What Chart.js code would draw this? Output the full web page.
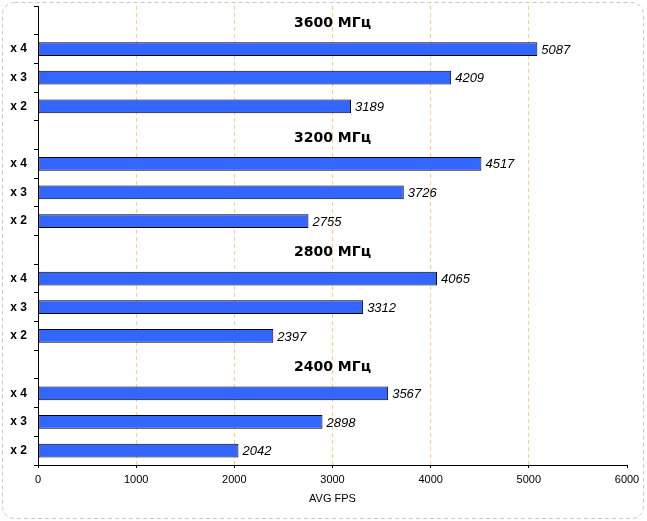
<!DOCTYPE html>
<html>
<head>
<meta charset="utf-8">
<script src="https://cdn.jsdelivr.net/npm/chart.js@4"></script>
<style>
  html, body { margin: 0; padding: 0; background: #fff; }
  #wrap { width: 647px; height: 521px; position: relative; }
</style>
</head>
<body>
<div id="wrap"><canvas id="c"></canvas></div>
<script>
// ---- data ----
const groupTitles = ['3600 МГц', '3200 МГц', '2800 МГц', '2400 МГц'];
const rowLabels = ['x 4', 'x 3', 'x 2'];
const fps3600 = [5087, 4209, 3189];
const fps3200 = [4517, 3726, 2755];
const fps2800 = [4065, 3312, 2397];
const fps2400 = [3567, 2898, 2042];
const xMin = 0, xMax = 6000, xStep = 1000;
const axisTitle = 'AVG FPS';

const groupValues = [fps3600, fps3200, fps2800, fps2400];
const labels = [];
const values = [];
const headerIndex = {};
groupTitles.forEach((t, g) => {
  headerIndex[labels.length] = t;
  labels.push('');
  values.push(null);
  rowLabels.forEach((r, i) => { labels.push(r); values.push(groupValues[g][i]); });
});

const frame = {
  id: 'frame',
  beforeDraw(chart) {
    const ctx = chart.ctx;
    ctx.save();
    ctx.strokeStyle = '#c8c8c8';
    ctx.lineWidth = 1;
    ctx.setLineDash([4, 3]);
    ctx.beginPath();
    ctx.roundRect(2.5, 2.5, 641, 516, 12);
    ctx.stroke();
    ctx.restore();
  }
};

const annot = {
  id: 'annot',
  afterDatasetsDraw(chart) {
    const ctx = chart.ctx;
    const meta = chart.getDatasetMeta(0);
    const ys = chart.scales.y;
    const area = chart.chartArea;
    ctx.save();
    ctx.fillStyle = '#000';
    ctx.textBaseline = 'middle';
    ctx.textAlign = 'left';
    ctx.font = 'italic 13px "Liberation Sans", Arial, sans-serif';
    meta.data.forEach((bar, i) => {
      const v = values[i];
      if (v == null) return;
      ctx.fillText(String(v), bar.x + 4, bar.y + 1);
    });
    ctx.textAlign = 'center';
    ctx.font = 'bold 14px "DejaVu Sans", Verdana, sans-serif';
    Object.keys(headerIndex).forEach(k => {
      const y = ys.getPixelForValue(Number(k));
      ctx.fillText(headerIndex[k], (area.left + area.right) / 2, y + 3);
    });
    ctx.restore();
  }
};

new Chart(document.getElementById('c'), {
  type: 'bar',
  data: {
    labels: labels,
    datasets: [{
      data: values,
      backgroundColor: '#3366FF',
      borderColor: '#000000',
      borderWidth: 1,
      borderSkipped: false,
      barPercentage: 0.48,
      categoryPercentage: 1
    }]
  },
  options: {
    indexAxis: 'y',
    responsive: true,
    maintainAspectRatio: false,
    animation: false,
    devicePixelRatio: 1,
    layout: { padding: { top: 6, right: 20, left: 0, bottom: 0 } },
    plugins: { legend: { display: false }, tooltip: { enabled: false } },
    scales: {
      x: {
        type: 'linear',
        min: xMin, max: xMax,
        afterFit(s) { s.height = 56; },
        ticks: {
          stepSize: xStep,
          color: '#000',
          padding: 5,
          maxRotation: 0,
          callback: (v) => String(v),
          font: { family: '"Liberation Sans", Arial, sans-serif', size: 11 }
        },
        grid: {
          color: (c) => (c.tick && (c.tick.value === xMin || c.tick.value === xMax)) ? 'rgba(0,0,0,0)' : '#FFCC80',
          lineWidth: 1,
          tickColor: '#000',
          tickLength: 3,
          tickBorderDash: []
        },
        border: { display: true, color: '#000', width: 1, dash: [4, 3] },
        title: {
          display: true,
          text: axisTitle,
          color: '#000',
          padding: { top: 4, bottom: 15 },
          font: { family: '"Liberation Sans", Arial, sans-serif', size: 11, weight: 'normal' }
        }
      },
      y: {
        type: 'category',
        afterFit(s) { s.width = 38; s.paddingTop = 0; s.paddingBottom = 0; },
        ticks: {
          color: '#000',
          padding: 7,
          autoSkip: false,
          font: { family: '"Liberation Sans", Arial, sans-serif', size: 12, weight: 'bold' }
        },
        grid: {
          offset: true,
          drawOnChartArea: false,
          color: '#000',
          tickColor: '#000',
          tickLength: 4
        },
        border: { display: true, color: '#000', width: 1 }
      }
    }
  },
  plugins: [frame, annot]
});
</script>
</body>
</html>
